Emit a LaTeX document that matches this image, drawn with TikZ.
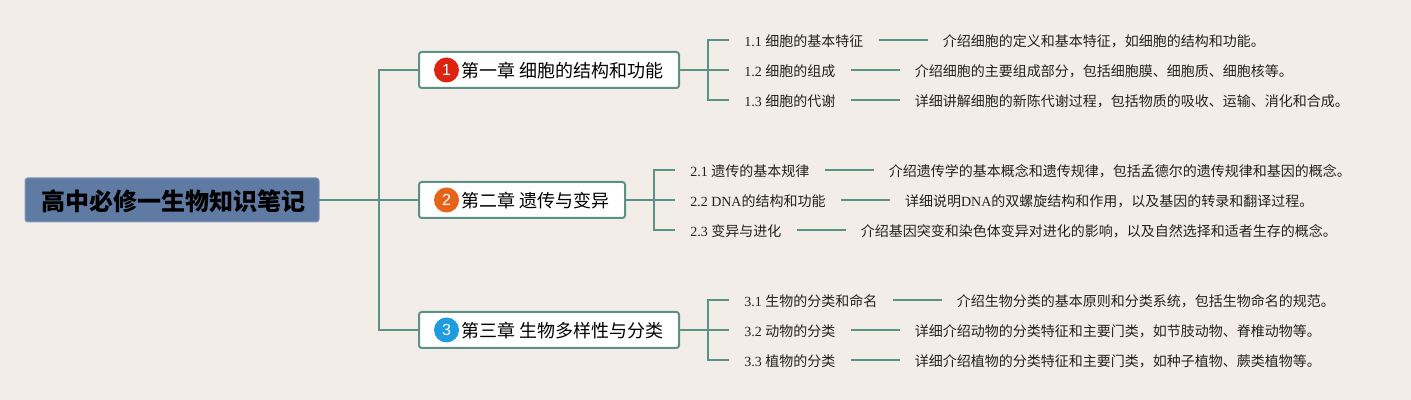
\documentclass[tikz,border=0pt]{standalone}
\usepackage{fontspec}
\usepackage{tikz}
\usetikzlibrary{calc,positioning}
\setmainfont{Noto Sans CJK SC}
\newfontfamily\latino{Liberation Serif}
\newfontfamily\selofonte{Liberation Sans}
\definecolor{fundo}{HTML}{F2EDE8}
\definecolor{linha}{HTML}{5B9285}
\definecolor{raiz}{HTML}{5F7AA3}
\definecolor{borda}{HTML}{8199BA}
\definecolor{vermelho}{HTML}{DC2410}
\definecolor{laranja}{HTML}{E5641A}
\definecolor{azul}{HTML}{1F9CDD}
\definecolor{texto}{HTML}{222222}
\tikzset{
  ramo/.style={linha,line width=1.5pt},
  raizbox/.style={draw=borda,fill=raiz,line width=0.75pt,rounded corners=2pt,outer sep=0pt,minimum width=220.5pt,minimum height=33pt,inner sep=0pt,text height=17pt,text depth=1.8pt,font=\fontsize{18}{22}\selectfont\bfseries,text=black},
  capitulo/.style={draw=linha,fill=white,line width=1.5pt,rounded corners=2pt,outer sep=0pt,minimum height=27pt,inner xsep=12pt,inner ysep=0pt,anchor=west,text height=13.5pt,text depth=1.5pt,font=\fontsize{13.5}{16}\selectfont,text=black},
  selo/.style={circle,minimum size=18.75pt,inner sep=0pt,text=white,font=\selofonte\fontsize{12}{14}\selectfont},
  secao/.style={anchor=west,inner xsep=11.25pt,inner ysep=0pt,text height=10pt,text depth=0.5pt,text=texto,font=\fontsize{10.5}{13}\selectfont},
  resumo/.style={right=36.75pt of #1,inner xsep=11.25pt,inner ysep=0pt,text height=10pt,text depth=0.5pt,text=texto,font=\fontsize{10.5}{13}\selectfont}
}
\begin{document}
\begin{tikzpicture}[x=0.75pt,y=0.75pt]
  \useasboundingbox (0,0) rectangle (1411,400);
  \fill[fundo] (0,0) rectangle (1411,400);
  % raiz e capitulos
  \node[raizbox] (raiz) at (172,200) {\hspace*{2pt}高中必修一生物知识笔记};
  \node[capitulo] (cap1) at (419,330) {\hspace*{19.5pt}第一章 细胞的结构和功能};
  \node[capitulo] (cap2) at (419,200) {\hspace*{19.5pt}第二章 遗传与变异};
  \node[capitulo] (cap3) at (419,70) {\hspace*{19.5pt}第三章 生物多样性与分类};
  \node[selo,fill=vermelho] (selo1) at (446.5,330) {1};
  \node[selo,fill=laranja] (selo2) at (446.5,200) {2};
  \node[selo,fill=azul] (selo3) at (446.5,70) {3};
  \coordinate (junta0) at (379,200);
  \coordinate (junta1) at (708,330);
  \coordinate (junta2) at (654,200);
  \coordinate (junta3) at (708,70);
  % capitulo 1
  \node[secao] (s11) at (729,360) {{\latino 1.1 }细胞的基本特征};
  \node[secao] (s12) at (729,330) {{\latino 1.2 }细胞的组成};
  \node[secao] (s13) at (729,300) {{\latino 1.3 }细胞的代谢};
  \node[resumo=s11] (r11) {介绍细胞的定义和基本特征，如细胞的结构和功能。};
  \node[resumo=s12] (r12) {介绍细胞的主要组成部分，包括细胞膜、细胞质、细胞核等。};
  \node[resumo=s13] (r13) {详细讲解细胞的新陈代谢过程，包括物质的吸收、运输、消化和合成。};
  % capitulo 2
  \node[secao] (s21) at (675,230) {{\latino 2.1 }遗传的基本规律};
  \node[secao] (s22) at (675,200) {{\latino 2.2 DNA}的结构和功能};
  \node[secao] (s23) at (675,170) {{\latino 2.3 }变异与进化};
  \node[resumo=s21] (r21) {介绍遗传学的基本概念和遗传规律，包括孟德尔的遗传规律和基因的概念。};
  \node[resumo=s22] (r22) {详细说明{\latino DNA}的双螺旋结构和作用，以及基因的转录和翻译过程。};
  \node[resumo=s23] (r23) {介绍基因突变和染色体变异对进化的影响，以及自然选择和适者生存的概念。};
  % capitulo 3
  \node[secao] (s31) at (729,100) {{\latino 3.1 }生物的分类和命名};
  \node[secao] (s32) at (729,70) {{\latino 3.2 }动物的分类};
  \node[secao] (s33) at (729,40) {{\latino 3.3 }植物的分类};
  \node[resumo=s31] (r31) {介绍生物分类的基本原则和分类系统，包括生物命名的规范。};
  \node[resumo=s32] (r32) {详细介绍动物的分类特征和主要门类，如节肢动物、脊椎动物等。};
  \node[resumo=s33] (r33) {详细介绍植物的分类特征和主要门类，如种子植物、蕨类植物等。};
  % ligacoes
  \begin{scope}[ramo]
    \draw (raiz.east) -- (cap2.west);
    \draw (junta0) |- (cap1.west);
    \draw (junta0) |- (cap3.west);
    \draw (cap1.east) -- (s12.west);
    \draw (junta1) |- (s11.west);
    \draw (junta1) |- (s13.west);
    \draw (cap2.east) -- (s22.west);
    \draw (junta2) |- (s21.west);
    \draw (junta2) |- (s23.west);
    \draw (cap3.east) -- (s32.west);
    \draw (junta3) |- (s31.west);
    \draw (junta3) |- (s33.west);
    \draw (s11) -- (r11);
    \draw (s12) -- (r12);
    \draw (s13) -- (r13);
    \draw (s21) -- (r21);
    \draw (s22) -- (r22);
    \draw (s23) -- (r23);
    \draw (s31) -- (r31);
    \draw (s32) -- (r32);
    \draw (s33) -- (r33);
  \end{scope}
\end{tikzpicture}
\end{document}
